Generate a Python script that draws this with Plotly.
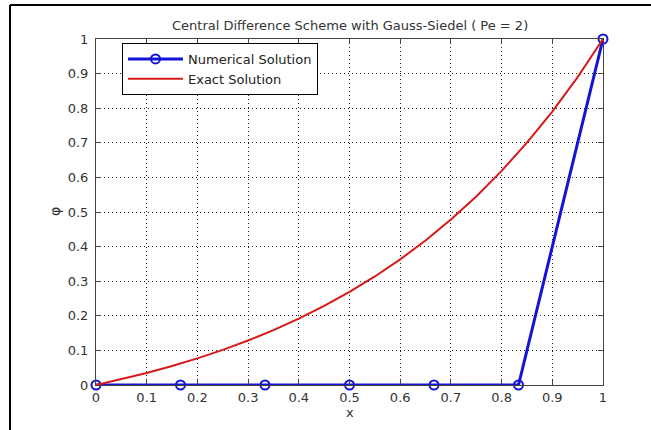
import plotly.graph_objects as go

# Grid points and Gauss-Seidel result for the central difference scheme
x_num = [0, 1/6, 2/6, 3/6, 4/6, 5/6, 1]
phi_num = [0, 0, 0, 0, 0, 0, 1]

# Exact solution sampled along x
x_exact = [0, 0.05, 0.1, 0.15, 0.2, 0.25, 0.3, 0.35, 0.4, 0.45, 0.5,
           0.55, 0.6, 0.65, 0.7, 0.75, 0.8, 0.85, 0.9, 0.95, 1.0]
phi_exact = [0, 0.0165, 0.0347, 0.0548, 0.0770, 0.1015, 0.1287, 0.1587,
             0.1918, 0.2285, 0.2689, 0.3137, 0.3631, 0.4178, 0.4782,
             0.5450, 0.6187, 0.7003, 0.7904, 0.8900, 1.0]

ticks = [round(0.1 * i, 1) for i in range(11)]
tick_text = ["0" if t == 0 else ("1" if t == 1 else f"{t:g}") for t in ticks]

W, H = 651, 430
ML, MR, MT, MB = 96, 48, 39, 45
PW, PH = W - ML - MR, H - MT - MB


def px(xp):
    return (xp - ML) / PW


def py(yp):
    return (H - MB - yp) / PH


FONT = "DejaVu Sans, Arial, sans-serif"
TXT = "#333"

fig = go.Figure()
fig.add_trace(go.Scatter(
    x=x_num, y=phi_num, mode="lines+markers", name="Numerical Solution",
    line=dict(color="rgb(20,20,215)", width=3),
    marker=dict(symbol="circle-open", size=9, color="rgb(20,20,215)",
                line=dict(width=2, color="rgb(20,20,215)")),
    cliponaxis=False,
))
fig.add_trace(go.Scatter(
    x=x_exact, y=phi_exact, mode="lines", name="Exact Solution",
    line=dict(color="rgb(215,25,25)", width=2),
    cliponaxis=False,
))

axis_common = dict(
    range=[0, 1], tickvals=ticks, ticktext=tick_text,
    showgrid=True, gridcolor="#222", griddash="1px,3px", gridwidth=1,
    zeroline=False, showline=True, linecolor="#444", linewidth=1,
    mirror="ticks", ticks="inside", ticklen=5, tickcolor="#444",
    tickfont=dict(family=FONT, size=13, color=TXT),
)
fig.update_xaxes(**axis_common)
fig.update_yaxes(**axis_common, ticklabelstandoff=4)

fig.update_layout(
    width=W, height=H,
    margin=dict(l=ML, r=MR, t=MT, b=MB),
    paper_bgcolor="white", plot_bgcolor="white",
    showlegend=True,
    legend=dict(x=px(122), y=py(43), xanchor="left", yanchor="top",
                bgcolor="white", bordercolor="black", borderwidth=1,
                font=dict(family=FONT, size=13, color="#222"),
                itemwidth=55, tracegroupgap=0),
    annotations=[
        dict(text="Central Difference Scheme with Gauss-Siedel ( Pe = 2)",
             x=0.5, y=py(25), xref="paper", yref="paper",
             xanchor="center", yanchor="middle",
             showarrow=False, font=dict(family=FONT, size=13, color=TXT)),
        dict(text="x", x=0.5, y=py(412), xref="paper", yref="paper",
             xanchor="center", yanchor="middle",
             showarrow=False, font=dict(family=FONT, size=13, color=TXT)),
        dict(text="φ", x=px(55), y=py(212), xref="paper", yref="paper",
             xanchor="center", yanchor="middle", textangle=-90,
             showarrow=False, font=dict(family=FONT, size=14, color=TXT)),
    ],
    shapes=[
        dict(type="line", xref="paper", yref="paper",
             x0=px(10), x1=px(651), y0=py(5), y1=py(5),
             line=dict(color="black", width=2)),
        dict(type="line", xref="paper", yref="paper",
             x0=px(10), x1=px(10), y0=py(5), y1=py(430),
             line=dict(color="black", width=2)),
    ],
)

fig.write_html("out.html")
